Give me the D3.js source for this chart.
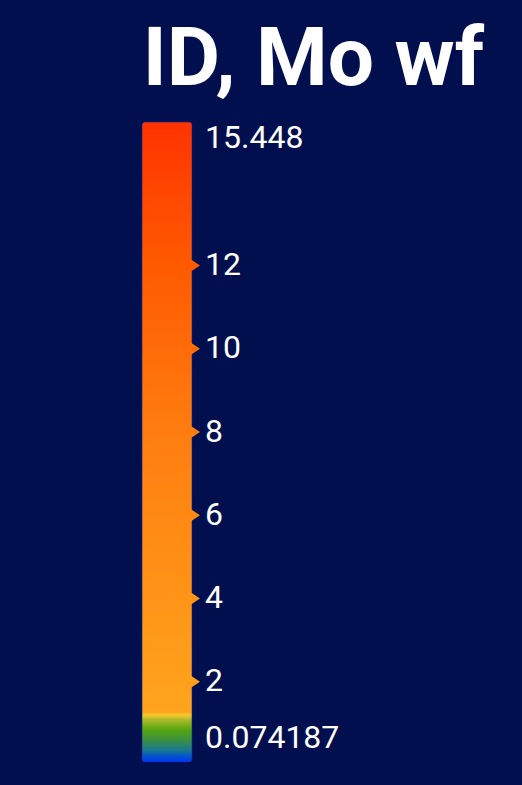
<!DOCTYPE html>
<html lang="en">
<head>
<meta charset="utf-8">
<title>ID, Mo wf</title>
<style>
  html, body {
    margin: 0;
    background-color: #010f4e;
  }
  svg {
    display: block;
    font-family: Roboto, sans-serif;
  }
</style>
</head>
<body>
<div id="vis"></div>
<script src="https://d3js.org/d3.v7.min.js"></script>
<script>
// legend data
var title = 'ID, Mo wf';
var minValue = 0.074187;
var maxValue = 15.448;
var tickValues = [2, 4, 6, 8, 10, 12];
var endLabels = ['0.074187', '15.448'];

// colour stops (value -> colour)
var stopValues = [0.074187, 0.19, 0.36, 0.6, 0.84, 1.08, 1.2, 1.28, 2, 4, 8, 12, 15.448];
var stopColors = ['#0033ff', '#0050d0', '#1a7890', '#3a9040', '#55a510', '#a8b828', '#f5c830',
                  '#ffa41c', '#ffa01c', '#ff9418', '#ff7d10', '#ff5a00', '#ff3300'];

var width = 522;
var height = 785;

var bar = { x: 142, w: 50, top: 122, bottom: 762 };

var svg = d3.select('#vis')
    .append('svg')
    .attr('width', width)
    .attr('height', height);

var y = d3.scaleLinear()
    .domain([minValue, maxValue])
    .range([bar.bottom, bar.top]);

var color = d3.scaleLinear()
    .domain(stopValues)
    .range(stopColors);

// gradient along the bar, bottom to top so offsets ascend
var grad = svg.append('defs')
    .append('linearGradient')
    .attr('id', 'bar-grad')
    .attr('gradientUnits', 'userSpaceOnUse')
    .attr('x1', 0).attr('x2', 0)
    .attr('y1', bar.bottom).attr('y2', bar.top);

grad.selectAll('stop')
    .data(stopValues)
    .enter()
    .append('stop')
    .attr('offset', function(d) { return (bar.bottom - y(d)) / (bar.bottom - bar.top); })
    .attr('stop-color', function(d) { return color(d); });

svg.append('rect')
    .attr('x', bar.x)
    .attr('y', y(maxValue))
    .attr('width', bar.w)
    .attr('height', y(minValue) - y(maxValue))
    .attr('rx', 3)
    .attr('fill', 'url(#bar-grad)')
    .attr('stroke', '#0a2a9a')
    .attr('stroke-width', 0.6);

// tick markers
svg.selectAll('.marker')
    .data(tickValues)
    .enter()
    .append('path')
    .attr('class', 'marker')
    .attr('d', function(d) {
        var yy = y(d);
        var x0 = bar.x + bar.w;
        return 'M' + (x0 - 1) + ',' + (yy - 6) + 'L' + (x0 + 8) + ',' + yy + 'L' + (x0 - 1) + ',' + (yy + 6) + 'Z';
    })
    .attr('fill', function(d) { return color(d); });

var labelSize = '32px';

// tick labels
svg.selectAll('.tick-label')
    .data(tickValues)
    .enter()
    .append('text')
    .attr('class', 'tick-label')
    .attr('x', 205)
    .attr('y', function(d) { return y(d); })
    .attr('dy', '0.3em')
    .attr('fill', 'white')
    .style('font-size', labelSize)
    .text(function(d) { return d; });

// end labels, drawn just inside the bar ends
svg.append('text')
    .attr('x', 205)
    .attr('y', y(maxValue) + 16)
    .attr('dy', '0.3em')
    .attr('fill', 'white')
    .style('font-size', labelSize)
    .text(endLabels[1]);

svg.append('text')
    .attr('x', 205)
    .attr('y', y(minValue) - 24)
    .attr('dy', '0.3em')
    .attr('fill', 'white')
    .style('font-size', labelSize)
    .text(endLabels[0]);

svg.append('text')
    .attr('x', 484)
    .attr('y', 85)
    .attr('text-anchor', 'end')
    .attr('fill', 'white')
    .style('font-size', '82px')
    .style('font-weight', 'bold')
    .text(title);
</script>
</body>
</html>
